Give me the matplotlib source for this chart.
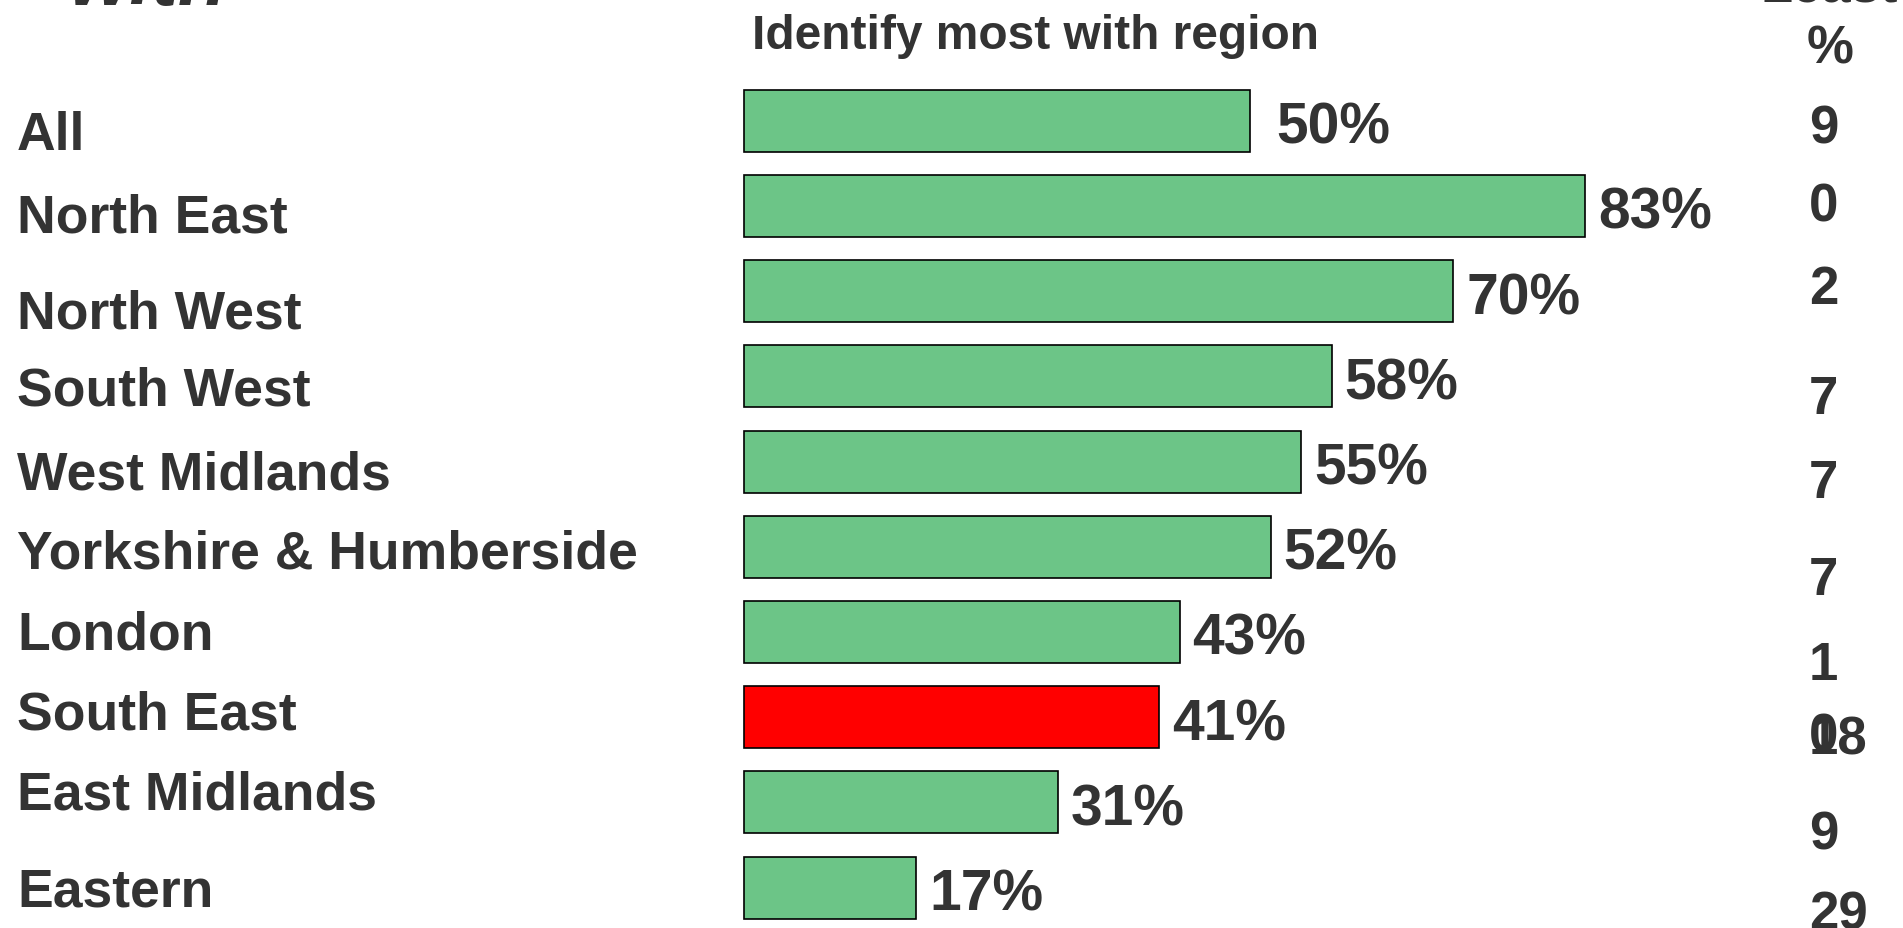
import matplotlib
matplotlib.use("Agg")
import matplotlib.pyplot as plt

plt.rcParams['font.family'] = ['Liberation Sans', 'DejaVu Sans']

# data
regions = ["All", "North East", "North West", "South West", "West Midlands",
           "Yorkshire & Humberside", "London", "South East", "East Midlands", "Eastern"]
identify_most = [50, 83, 70, 58, 55, 52, 43, 41, 31, 17]
highlight = "South East"
least_col = ["9", "0", "2", "7", "7", "7", "1", "0", "18", "9", "29"]

# layout (pixels of the 1903x929 slide)
W, H = 1903, 929
x0, px_per_pct = 744, 10.13
row0, row_step, bar_px = 121.7, 85.2, 62
label_drop = [28, 26, 36, 28, 27, 21, 17, 11, 6, 18]
pct_gap = [26, 13, 13, 13, 13, 13, 13, 13, 13, 13]
least_base = [143, 222, 304, 414, 498, 595, 680, 751, 755, 850, 930]

TXT = '#333333'
GREEN = '#6cc587'

fig = plt.figure(figsize=(W / 100, H / 100), dpi=100)
ax = fig.add_axes([0, 0, 1, 1])
ax.axis('off')
ax.set_xlim(-x0 / px_per_pct, (W - x0) / px_per_pct)
ax.set_ylim((H - row0) / row_step, -row0 / row_step)

colors = ['red' if r == highlight else GREEN for r in regions]
ax.barh(range(len(regions)), identify_most, height=bar_px / row_step,
        color=colors, edgecolor='black', linewidth=1.2)

for i, (r, v) in enumerate(zip(regions, identify_most)):
    ax.annotate(r, xy=(17, i), xycoords=('figure pixels', 'data'),
                xytext=(0, -label_drop[i]), textcoords='offset pixels',
                va='baseline', ha='left', fontsize=38.5, fontweight='bold', color=TXT)
    ax.annotate(f"{v}%", xy=(v, i), xytext=(pct_gap[i], -22), textcoords='offset pixels',
                va='baseline', ha='left', fontsize=41, fontweight='bold', color=TXT)


def ftext(x, y, s, **kw):
    # x, y in pixels from top-left
    fig.text(x / W, 1 - y / H, s, va='baseline', ha='left', color=TXT,
             fontweight='bold', **kw)


ftext(752, 49, "Identify most with region", fontsize=34.5)
ftext(68, 5, "with", fontsize=57, fontstyle='italic')
ftext(1760, 2, "Least", fontsize=38)
ftext(1807, 63, "%", fontsize=38)
for s, yb in zip(least_col, least_base):
    ftext(1809, yb, s, fontsize=38)

fig.savefig("out.png", dpi=100)
